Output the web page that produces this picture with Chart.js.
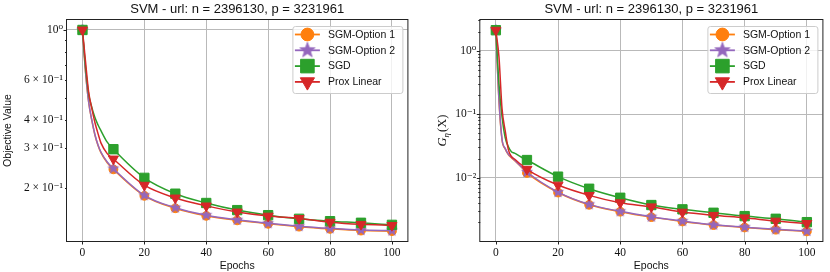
<!DOCTYPE html>
<html>
<head>
<meta charset="utf-8">
<script src="https://cdn.jsdelivr.net/npm/chart.js@4.4.0/dist/chart.umd.min.js"></script>
<style>
  html, body { margin: 0; padding: 0; background: #fff; }
  #wrap { position: relative; width: 830px; height: 272px; }
  .panel { position: absolute; top: 0; width: 415px; height: 272px; }
</style>
</head>
<body>
<div id="wrap">
  <div class="panel" style="left:0"><canvas id="objChart" width="415" height="272"></canvas></div>
  <div class="panel" style="left:415px"><canvas id="gapChart" width="415" height="272"></canvas></div>
</div>
<script>
// Epoch grid shared by every series, markers only every 10 epochs
const epochs = [0, 1, 2, 3, 4, 5, 6, 8, 10, 20, 30, 40, 50, 60, 70, 80, 90, 100];
const markerEpochs = [0, 10, 20, 30, 40, 50, 60, 70, 80, 90, 100];
const xTicks = [0, 20, 40, 60, 80, 100];
const seriesNames = ['SGM-Option 1', 'SGM-Option 2', 'SGD', 'Prox Linear'];

// Left panel - objective value
const objSgm1 = [1.0, 0.65, 0.478, 0.398, 0.343, 0.308, 0.285, 0.258, 0.241, 0.184, 0.162, 0.150, 0.1432, 0.1383, 0.1343, 0.1313, 0.129, 0.1283];
const objSgm2 = [1.0, 0.65, 0.48, 0.40, 0.345, 0.31, 0.287, 0.26, 0.243, 0.185, 0.163, 0.151, 0.144, 0.139, 0.135, 0.132, 0.1297, 0.129];
const objSgd  = [1.0, 0.68, 0.52, 0.455, 0.41, 0.38, 0.357, 0.318, 0.296, 0.221, 0.188, 0.171, 0.159, 0.151, 0.1455, 0.142, 0.1397, 0.1368];
const objProx = [1.0, 0.72, 0.53, 0.45, 0.39, 0.348, 0.315, 0.283, 0.268, 0.205, 0.180, 0.166, 0.156, 0.1496, 0.146, 0.1406, 0.1375, 0.136];
const objTicks = [1, 0.9, 0.8, 0.7, 0.6, 0.5, 0.4, 0.3, 0.2];
const objTickLabels = ['10⁰', '', '', '', '6 × 10⁻¹', '', '4 × 10⁻¹', '3 × 10⁻¹', '2 × 10⁻¹'];
const objMajor = [1];

// Right panel - G_eta(X)
const gapSgm1 = [2.1, 0.165, 0.039, 0.0285, 0.0232, 0.0207, 0.0187, 0.015, 0.0119, 0.00585, 0.00375, 0.00292, 0.0024, 0.00205, 0.0018, 0.00165, 0.00152, 0.00143];
const gapSgm2 = [2.1, 0.17, 0.04, 0.029, 0.0235, 0.021, 0.019, 0.0152, 0.0123, 0.00595, 0.00381, 0.00296, 0.00243, 0.00208, 0.00182, 0.00167, 0.00154, 0.00145];
const gapSgd  = [2.1, 0.3, 0.09, 0.043, 0.031, 0.0257, 0.0244, 0.0214, 0.019, 0.0104, 0.00671, 0.00484, 0.00372, 0.00318, 0.00281, 0.00249, 0.00226, 0.0020];
const gapProx = [2.1, 0.8, 0.12, 0.055, 0.028, 0.0216, 0.0197, 0.0163, 0.0136, 0.00767, 0.00528, 0.00404, 0.00349, 0.00288, 0.00256, 0.00234, 0.00208, 0.00191];
const gapTicks = [3, 2, 1, 0.9, 0.8, 0.7, 0.6, 0.5, 0.4, 0.3, 0.2,
                  0.1, 0.09, 0.08, 0.07, 0.06, 0.05, 0.04, 0.03, 0.02,
                  0.01, 0.009, 0.008, 0.007, 0.006, 0.005, 0.004, 0.003, 0.002];
const gapMajor = [1, 0.1, 0.01];
const gapMajorLabels = ['10⁰', '10⁻¹', '10⁻²'];

const SANS = "'Liberation Sans', Arial, sans-serif";
const SERIF = "'Liberation Serif', 'DejaVu Serif', serif";
const GRID = '#b9b9b9';

// filled five point star, Chart.js has no such pointStyle
function makeStar(outer, inner, color) {
    const c = document.createElement('canvas');
    const s = Math.ceil(outer * 2 + 2);
    c.width = s; c.height = s;
    const g = c.getContext('2d');
    g.beginPath();
    for (let k = 0; k < 10; k++) {
        const r = k % 2 ? inner : outer;
        const a = -Math.PI / 2 + k * Math.PI / 5;
        g.lineTo(s / 2 + r * Math.cos(a), s / 2 + r * Math.sin(a));
    }
    g.closePath();
    g.fillStyle = color; g.fill();
    g.strokeStyle = color; g.lineWidth = 0.8; g.stroke();
    return c;
}

const styles = [
    {color: '#ff7f0e', point: 'circle', rot: 0, r: 4.4, lr: 6.4},
    {color: '#9467bd', point: makeStar(5.6, 2.3, '#9467bd'), rot: 0, r: 5, lr: 7,
     legendPoint: makeStar(8, 3.3, '#9467bd')},
    {color: '#2ca02c', point: 'rect', rot: 0, r: 6.6, lr: 9.6},
    {color: '#d62728', point: 'triangle', rot: 180, r: 5.8, lr: 8.2}
];

function makeDatasets(seriesValues) {
    return seriesValues.map((ys, i) => {
        const st = styles[i];
        return {
            label: seriesNames[i],
            data: epochs.map((x, k) => ({x: x, y: ys[k]})),
            borderColor: st.color,
            backgroundColor: st.color,
            borderWidth: 1.5,
            pointStyle: st.point,
            pointRotation: st.rot,
            pointBackgroundColor: st.color,
            pointBorderColor: st.color,
            pointBorderWidth: 1,
            pointRadius: (ctx) => (ctx.raw && markerEpochs.includes(ctx.raw.x)) ? st.r : 0,
            cubicInterpolationMode: 'monotone',
            order: 4 - i,   // later series drawn on top, like matplotlib
            legendStyle: st
        };
    });
}

// Spines plus outward tick marks
const frameTicks = {
    id: 'frameTicks',
    afterDatasetsDraw(chart, args, opts) {
        const {ctx, chartArea: a} = chart;
        const xs = chart.scales.x, ys = chart.scales.y;
        ctx.save();
        ctx.strokeStyle = '#222';
        ctx.lineWidth = 1;
        ctx.strokeRect(a.left - 0.5, a.top - 0.5, a.right - a.left + 1, a.bottom - a.top + 1);
        ctx.beginPath();
        xs.ticks.forEach(t => {
            const px = Math.round(xs.getPixelForValue(t.value)) + 0.5;
            ctx.moveTo(px, a.bottom); ctx.lineTo(px, a.bottom + 3.5);
        });
        ys.ticks.forEach(t => {
            const py = Math.round(ys.getPixelForValue(t.value)) + 0.5;
            const len = opts.major.includes(t.value) ? 3.5 : 2;
            ctx.moveTo(a.left, py); ctx.lineTo(a.left - len, py);
        });
        ctx.stroke();
        ctx.restore();
    }
};

// matplotlib style legend inside the upper right corner
const insideLegend = {
    id: 'insideLegend',
    afterDatasetsDraw(chart) {
        const {ctx, chartArea: a} = chart;
        const w = 110, h = 67;
        const x0 = a.right - 5 - w, y0 = a.top + 6;
        ctx.save();
        ctx.beginPath();
        ctx.roundRect(x0 + 0.5, y0 + 0.5, w, h, 2.5);
        ctx.fillStyle = 'rgba(255,255,255,0.8)';
        ctx.fill();
        ctx.strokeStyle = '#cccccc';
        ctx.lineWidth = 1;
        ctx.stroke();
        chart.data.datasets.forEach((ds, i) => {
            const st = ds.legendStyle;
            const y = y0 + 8.5 + i * 15.8;
            ctx.strokeStyle = st.color;
            ctx.lineWidth = 1.8;
            ctx.beginPath();
            ctx.moveTo(x0 + 2.5, y); ctx.lineTo(x0 + 27.5, y);
            ctx.stroke();
            ctx.fillStyle = st.color;
            if (st.legendPoint) {
                const img = st.legendPoint;
                ctx.drawImage(img, x0 + 15 - img.width / 2, y - img.height / 2);
            } else {
                ctx.lineWidth = 1;
                Chart.helpers.drawPoint(ctx, {pointStyle: st.point, rotation: st.rot, radius: st.lr, borderWidth: 1}, x0 + 15, y);
            }
            ctx.fillStyle = '#111';
            ctx.font = '10.5px ' + SANS;
            ctx.textBaseline = 'middle';
            ctx.fillText(ds.label, x0 + 35.5, y + 0.5);
        });
        ctx.restore();
    }
};

// y label of the right panel: G with subscript eta
const gapYLabel = {
    id: 'gapYLabel',
    afterDraw(chart) {
        const {ctx, chartArea: a} = chart;
        ctx.save();
        ctx.translate(26.5, (a.top + a.bottom) / 2);
        ctx.rotate(-Math.PI / 2);
        ctx.fillStyle = '#111';
        ctx.textBaseline = 'alphabetic';
        const big = 'italic 12.5px ' + SERIF, small = 'italic 9px ' + SERIF, plain = '12.5px ' + SERIF;
        ctx.font = big; const wG = ctx.measureText('G').width;
        ctx.font = small; const wE = ctx.measureText('η').width;
        ctx.font = plain; const wX = ctx.measureText('(X)').width;
        let x = -(wG + wE + 1 + wX) / 2;
        ctx.font = big; ctx.fillText('G', x, 4); x += wG;
        ctx.font = small; ctx.fillText('η', x, 7); x += wE + 1;
        ctx.font = plain; ctx.fillText('(X)', x, 4);
        ctx.restore();
    }
};

function makeConfig(datasets, yMin, yMax, yTicks, yLabel, yMajor, yWidth, rightPad, yTitle) {
    return {
        type: 'line',
        data: {datasets: datasets},
        options: {
            responsive: false,
            animation: false,
            events: [],
            layout: {padding: {left: 0, right: rightPad, top: 0, bottom: 0}},
            plugins: {
                legend: {display: false},
                tooltip: {enabled: false},
                title: {
                    display: true,
                    fullSize: false,
                    text: 'SVM - url: n = 2396130, p = 3231961',
                    color: '#111',
                    font: {family: SANS, size: 13, weight: 'normal', lineHeight: 1.2},
                    padding: {top: 1.5, bottom: 2.9}
                },
                frameTicks: {major: yMajor}
            },
            scales: {
                x: {
                    type: 'linear',
                    min: -5, max: 105,
                    afterBuildTicks: (s) => { s.ticks = xTicks.map(v => ({value: v})); },
                    afterFit: (s) => { s.height = 31; },
                    grid: {color: GRID, lineWidth: 1, drawTicks: false},
                    border: {display: false},
                    ticks: {
                        autoSkip: false, maxRotation: 0, padding: 5, color: '#111',
                        font: {family: SERIF, size: 11.5},
                        callback: (v) => String(v)
                    },
                    title: {display: true, text: 'Epochs', color: '#111',
                        font: {family: SANS, size: 10.5}, padding: {top: 0, bottom: 0}}
                },
                y: {
                    type: 'logarithmic',
                    min: yMin, max: yMax,
                    bounds: 'data',
                    afterBuildTicks: (s) => { s.ticks = yTicks.map(v => ({value: v})); },
                    afterFit: (s) => { s.width = yWidth; },
                    grid: {
                        color: (ctx) => (ctx.tick && yMajor.includes(ctx.tick.value)) ? GRID : 'rgba(0,0,0,0)',
                        lineWidth: 1, drawTicks: false
                    },
                    border: {display: false},
                    ticks: {
                        autoSkip: false, padding: 4, color: '#111',
                        font: {family: SERIF, size: 11.5},
                        callback: (v, i) => yLabel(v, i)
                    },
                    title: yTitle
                }
            }
        },
        plugins: [frameTicks, insideLegend]
    };
}

// Left chart
const objConfig = makeConfig(
    makeDatasets([objSgm1, objSgm2, objSgd, objProx]),
    0.116, 1.107, objTicks,
    (v, i) => objTickLabels[i],
    objMajor, 67, 3,
    {display: true, text: 'Objective Value', color: '#111',
     font: {family: SANS, size: 10.5, lineHeight: 1.2}, padding: {top: 2, bottom: 0}}
);
const objChart = new Chart(document.getElementById('objChart'), objConfig);

// Right chart
const gapConfig = makeConfig(
    makeDatasets([gapSgm1, gapSgm2, gapSgd, gapProx]),
    0.00101, 3.04, gapTicks,
    (v, i) => { const k = gapMajor.indexOf(gapTicks[i]); return k >= 0 ? gapMajorLabels[k] : ''; },
    gapMajor, 65.3, 4.3,
    {display: false}
);
gapConfig.plugins.push(gapYLabel);
const gapChart = new Chart(document.getElementById('gapChart'), gapConfig);
</script>
</body>
</html>
